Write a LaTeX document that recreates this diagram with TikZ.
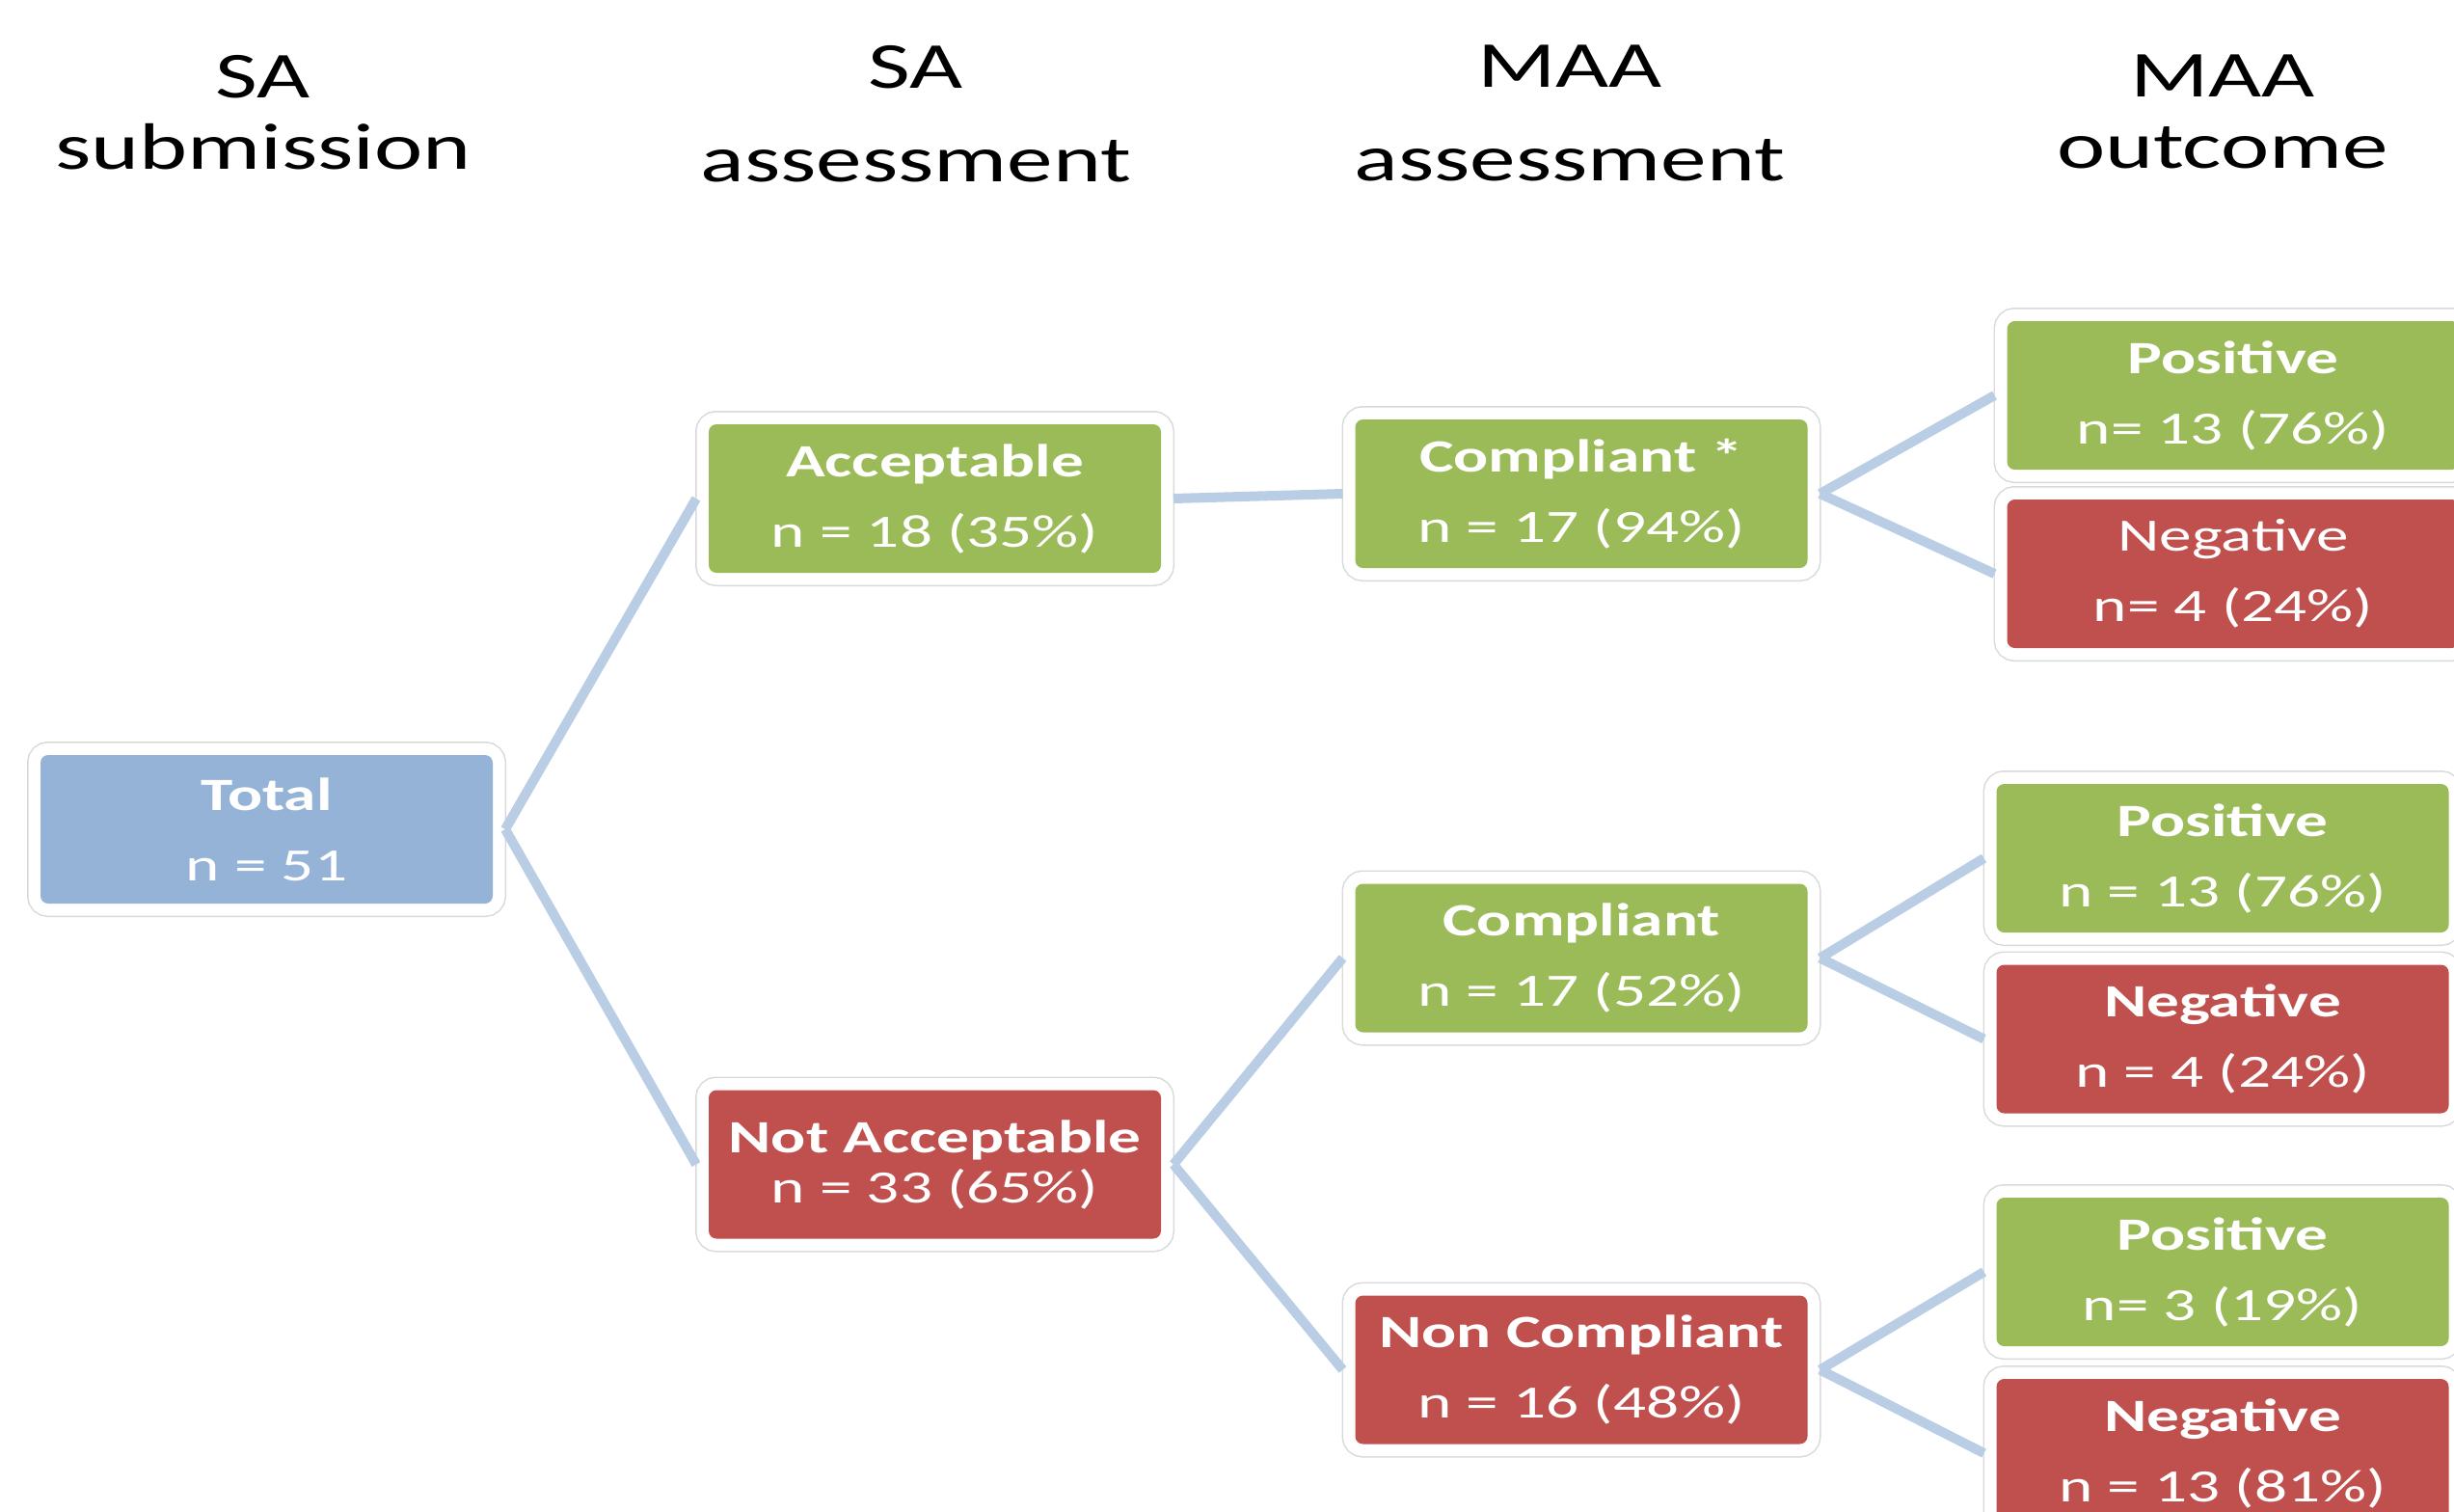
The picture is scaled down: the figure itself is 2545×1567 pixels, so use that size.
\documentclass[tikz,border=0pt]{standalone}
\usepackage{fontspec}
\newfontfamily\calfont[FakeStretch=1.4]{Carlito}
\definecolor{cgreen}{HTML}{9BBB59}
\definecolor{cred}{HTML}{C0504D}
\definecolor{cblue}{HTML}{95B3D7}
\definecolor{cline}{HTML}{B9CDE5}
\tikzset{
  box/.style={rectangle, rounded corners=8pt, minimum width=469pt, minimum height=154pt,
    inner sep=0pt, outer sep=13pt, text=white, align=center,
    font=\calfont\fontsize{48}{73}\selectfont,
    preaction={draw=black!15, line width=28pt},
    preaction={draw=white, line width=25pt}},
  tight/.style={font=\calfont\fontsize{48}{52}\selectfont},
  hdr/.style={align=center, inner sep=0pt, anchor=north, text=black},
  hdrA/.style={hdr, font=\calfont\fontsize{68}{74}\selectfont},
  hdrB/.style={hdr, font=\calfont\fontsize{68}{97}\selectfont},
  conn/.style={draw=cline, line width=10pt},
}
\begin{document}
\begin{tikzpicture}[x=1pt,y=-1pt]
\useasboundingbox (0,0) rectangle (2545,1567);
\clip (0,0) rectangle (2545,1567);
% headers
\node[hdrA] (h1) at (273,57) {SA\\submission};
\node[hdrB] (h2) at (950,47) {SA\\assessment};
\node[hdrB] (h3) at (1628,47) {MAA\\assessment};
\node[hdrA] (h4) at (2305,57) {MAA\\outcome};
% boxes
\node[box, fill=cblue] (total) at (276.5,860) {\textbf{Total}\\n = 51};
\node[box, fill=cgreen] (acc) at (969.5,517) {\textbf{Acceptable}\\n = 18 (35\%)};
\node[box, fill=cred, tight] (nacc) at (969.5,1207.5) {\textbf{Not Acceptable}\\n = 33 (65\%)};
\node[box, fill=cgreen] (comp1) at (1640,512) {\textbf{Compliant *}\\n = 17 (94\%)};
\node[box, fill=cgreen] (comp2) at (1640,993.5) {\textbf{Compliant}\\n = 17 (52\%)};
\node[box, fill=cred] (ncomp) at (1640,1420.5) {\textbf{Non Compliant}\\n = 16 (48\%)};
\node[box, fill=cgreen] (pos1) at (2316,410) {\textbf{Positive}\\n= 13 (76\%)};
\node[box, fill=cred] (neg1) at (2316,595) {Negative\\n= 4 (24\%)};
\node[box, fill=cgreen] (pos2) at (2305,890) {\textbf{Positive}\\n = 13 (76\%)};
\node[box, fill=cred] (neg2) at (2305,1077.5) {\textbf{Negative}\\n = 4 (24\%)};
\node[box, fill=cgreen] (pos3) at (2305,1319) {\textbf{Positive}\\n= 3 (19\%)};
\node[box, fill=cred] (neg3) at (2305,1507) {\textbf{Negative}\\n = 13 (81\%)};
% connectors
\draw[conn] (total.east) -- (acc.west);
\draw[conn] (total.east) -- (nacc.west);
\draw[conn] (acc.east) -- (comp1.west);
\draw[conn] (comp1.east) -- (pos1.west);
\draw[conn] (comp1.east) -- (neg1.west);
\draw[conn] (nacc.east) -- (comp2.west);
\draw[conn] (nacc.east) -- (ncomp.west);
\draw[conn] (comp2.east) -- (pos2.west);
\draw[conn] (comp2.east) -- (neg2.west);
\draw[conn] (ncomp.east) -- (pos3.west);
\draw[conn] (ncomp.east) -- (neg3.west);
\end{tikzpicture}
\end{document}
